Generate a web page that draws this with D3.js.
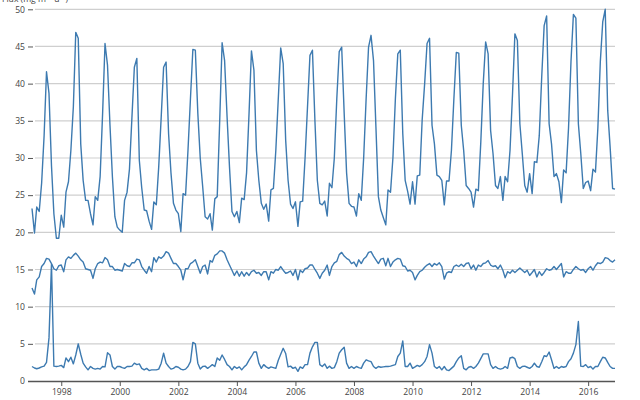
<!DOCTYPE html>
<html>
<head>
<meta charset="utf-8">
<script src="https://cdn.jsdelivr.net/npm/d3@7"></script>
<style>
  html, body { margin: 0; padding: 0; background: #fff; }
  svg { display: block; }
  .tick text { font-family: "Open Sans", "Liberation Sans", sans-serif; font-size: 8.6px; fill: #444; }
</style>
</head>
<body>
<svg id="chart" width="640" height="400"></svg>
<script>
// ---- data ----
const firstYear = 1997;
const lastYear = 2016;
const yTicks = [0, 5, 10, 15, 20, 25, 30, 35, 40, 45, 50];
const xTickYears = [1998, 2000, 2002, 2004, 2006, 2008, 2010, 2012, 2014, 2016];
const yLabel = "Flux (mg m\u207B\u00B2 d\u207B\u00B9)";

// monthly values, Jan 1997 .. Dec 2016
const seriesTop = [
  23.2, 19.9, 23.4, 22.8, 26.6, 33, 41.6, 38.7, 29, 22.5, 19.2, 19.2,
  22.3, 20.7, 25.4, 26.8, 31, 36.9, 46.9, 46.1, 31.9, 27, 24.3, 24.3,
  22.5, 21, 24.8, 24.3, 27.5, 36, 45.4, 42.5, 34.4, 27.5, 22.1, 20.7,
  20.3, 20, 24.3, 25.4, 28.5, 35.5, 42.2, 43.4, 29.7, 26, 23, 22.9,
  21.5, 20.4, 24.1, 23.7, 28.8, 35.5, 42.2, 42.9, 33.3, 28, 23.9, 23,
  22.5, 20.1, 25.2, 25, 31, 38, 44.6, 44.5, 36, 30, 26.1, 22.1,
  21.8, 22.5, 20.3, 24.5, 24.8, 35, 45.5, 43.1, 35.5, 28.8, 22.8, 22.1,
  22.8, 21.3, 24.6, 24.4, 28, 36, 44.4, 41.8, 31, 27, 23.9, 23.1,
  23.8, 21.5, 25.7, 25.9, 31, 38, 44.8, 42.7, 32.4, 27, 23.8, 23.2,
  24.1, 20.8, 24.1, 24.2, 30, 37, 43.8, 44.5, 35, 27, 23.9, 23.7,
  24.2, 22.2, 26.6, 26, 30, 38, 44.3, 44.9, 36, 28, 23.9, 23.5,
  23.4, 22.2, 25.2, 24.3, 30, 38, 44.9, 46.5, 43.1, 34.2, 24.8, 23,
  22, 21, 25.7, 25.4, 30, 38, 44, 44.5, 33.3, 27, 25.5, 23.8,
  26.8, 23.8, 27.6, 27.7, 35.1, 40, 45.4, 46.1, 34.4, 31.9, 27.7, 27.5,
  27, 23.7, 26.9, 26.9, 31, 38, 44.2, 44.1, 34.4, 31, 26.3, 25.9,
  25.4, 23.4, 25.8, 25.6, 32, 40, 45.6, 44, 33.7, 30.6, 26.3, 25.9,
  27.5, 24.3, 27.5, 26.8, 31, 38.5, 46.7, 45.8, 34.6, 30.6, 26.3, 25.4,
  27.9, 25.2, 29.5, 29.4, 33, 41, 47.8, 49.1, 34.6, 31.9, 27.5, 27.9,
  26.8, 24, 28.4, 28, 34, 43, 49.3, 48.8, 34.6, 30.6, 25.9, 26.7,
  26.9, 25.6, 28.5, 28.1, 34, 43, 48.3, 50, 36.4, 31.5, 25.9, 25.8
];

const seriesMid = [
  12.5, 11.7, 13.6, 14, 15.4, 15.8, 16.5, 16.4, 15.8, 15.1, 14.9, 15.5,
  15.6, 14.7, 16.3, 16.7, 16.5, 16.9, 17.2, 16.8, 16.3, 16, 15.1, 15,
  14.9, 13.8, 15.1, 15.8, 16, 15.9, 16.6, 16.3, 15.4, 15.4, 14.9, 15,
  14.9, 14.8, 15.8, 15.5, 15.4, 15.9, 15.9, 16.4, 16.3, 15.4, 14.9, 14.5,
  15.4, 14.7, 16.6, 16, 16.7, 16.5, 16.8, 17.4, 17.2, 16.5, 15.8, 15.8,
  15.4, 14.9, 13.6, 15.1, 15.1, 15.8, 16, 16.3, 15.4, 14.5, 15.4, 15.6,
  14.4, 16.2, 16, 16.9, 17.1, 17.5, 17.5, 17.2, 16.3, 15.6, 14.9, 14.2,
  14.8, 14.1, 14.7, 14.1, 14.6, 14.2, 14.7, 14.9, 14.5, 14.6, 14.2, 14.7,
  14.7, 13.6, 14.7, 14.5, 15, 14.9, 15.4, 14.9, 14.5, 14.6, 14.8, 14.2,
  15, 13.6, 14.9, 14.6, 15.1, 15.2, 15.6, 15.6, 15, 14.5, 13.8, 14.5,
  14.9, 15.6, 14.2, 15.4, 15.9, 16.1, 17, 17.3, 16.8, 16.5, 16.3, 15.8,
  16, 15.4, 16.3, 15.8, 16.4, 16.7, 17.3, 17.4, 16.8, 16.3, 15.8, 16.4,
  16.5, 15.5, 16.5, 15.4, 16, 16.3, 16.5, 16.4, 15.5, 15.4, 14.8, 14.9,
  14.6, 13.6, 14.2, 14.7, 14.9, 15.3, 15.6, 15.8, 15.4, 15.8, 15.6, 15.9,
  15.4, 13.7, 14.5, 14.7, 14.6, 15.4, 15.6, 15.4, 15.7, 15.4, 15.8, 15.9,
  15.1, 15.6, 14.9, 15.6, 15.4, 15.8, 15.9, 16.2, 15.6, 15.4, 15.5, 15.1,
  15.6, 14.9, 13.9, 14.7, 14.5, 14.9, 14.6, 14.9, 15.2, 14.9, 14.6, 14.9,
  14.2, 14.6, 15, 14, 14.7, 14.2, 14.6, 15.1, 14.9, 15, 15.4, 15,
  15.4, 15.8, 14, 14.7, 14.5, 14.5, 15, 15.4, 15.1, 14.9, 15, 14.6,
  15.1, 15.4, 14.9, 15.5, 15.9, 15.8, 16, 16.6, 16.5, 16.2, 16, 16.3
];

const seriesLow = [
  1.95, 1.75, 1.65, 1.75, 1.9, 2.0, 2.5, 5.8, 15.7, 2.0, 1.95, 2.0,
  2.1, 1.8, 3.1, 2.6, 3.2, 2.3, 3.5, 5.0, 3.6, 2.4, 1.9, 1.5,
  1.95, 1.7, 1.6, 1.7, 1.6, 1.95, 1.9, 3.8, 3.5, 1.95, 1.6, 1.95,
  1.95, 1.8, 1.7, 1.95, 1.95, 2.0, 2.4, 2.2, 2.3, 1.7, 1.5, 1.7,
  1.4, 1.5, 1.5, 1.5, 1.6, 2.4, 3.75, 2.4, 1.95, 1.6, 1.7, 1.95,
  1.85, 1.6, 1.5, 1.6, 1.95, 2.6, 5.2, 5.0, 2.4, 1.6, 1.95, 2.0,
  1.7, 1.95, 2.2, 1.95, 3.1, 2.8, 3.5, 2.9, 2.2, 1.95, 1.5, 1.95,
  1.7, 1.9, 1.5, 1.9, 2.2, 2.8, 3.3, 3.9, 3.9, 2.4, 1.7, 2.2,
  1.9, 1.7, 1.9, 1.8, 1.7, 2.8, 3.6, 4.4, 3.7, 1.9, 2.0, 1.7,
  1.85, 1.3, 1.9, 1.7, 2.2, 2.2, 3.75, 4.6, 5.2, 5.2, 2.2, 1.95,
  2.3, 1.7, 2.0, 1.7, 1.8, 2.6, 3.75, 4.2, 4.55, 2.4, 1.7, 1.95,
  1.7, 1.95, 1.8, 1.7, 2.4, 2.85, 2.7, 2.6, 1.95, 1.7, 1.95, 1.85,
  1.9, 1.95, 1.95, 2.0, 2.1, 2.2, 3.3, 3.75, 5.4, 1.95, 1.95, 2.4,
  1.7, 1.9, 2.1, 1.95, 2.2, 2.6, 3.3, 4.9, 3.75, 1.95, 1.7, 1.95,
  1.5, 1.95, 1.5, 1.4, 1.7, 2.0, 2.6, 3.1, 3.4, 1.7, 1.5, 1.85,
  1.95, 1.7, 1.95, 2.4, 3.0, 3.65, 3.65, 3.65, 2.2, 1.7, 1.95, 1.7,
  1.6, 1.7, 1.95, 1.7, 3.1, 3.2, 3.0, 1.95, 1.7, 1.95, 2.0, 1.85,
  1.7, 1.95, 2.4, 1.95, 1.85, 2.6, 3.4, 3.3, 3.9, 2.85, 1.7, 1.95,
  1.7, 1.95, 1.85, 1.95, 2.6, 3.0, 3.75, 4.9, 8.0, 2.0, 1.95, 2.2,
  1.8, 1.95, 1.6, 1.95, 1.95, 2.6, 3.2, 3.1, 2.5, 1.95, 1.7, 1.7
];

// ---- chart ----
const months = d3.timeMonth.range(new Date(firstYear, 0, 1), new Date(lastYear + 1, 0, 1));
const svg = d3.select("#chart");

const x = d3.scaleTime()
  .domain([months[0], months[months.length - 1]])
  .range([32, 615]);
const y = d3.scaleLinear().domain([0, 50]).range([381, 9.3]);

// gridlines
svg.append("g")
  .selectAll("line")
  .data(yTicks.filter(d => d > 0))
  .join("line")
  .attr("x1", 35).attr("x2", 615)
  .attr("y1", d => y(d)).attr("y2", d => y(d))
  .attr("stroke", "#cfcfcf")
  .attr("stroke-width", 1.2);

// y axis
const yAxis = svg.append("g")
  .attr("transform", "translate(33,0)")
  .call(d3.axisLeft(y).tickValues(yTicks).tickSize(5).tickPadding(3));
yAxis.select(".domain").remove();
yAxis.selectAll(".tick line").attr("stroke", "#555");

// x axis
const xAxis = svg.append("g")
  .attr("transform", "translate(0,381)")
  .call(d3.axisBottom(x)
    .tickValues(xTickYears.map(yr => new Date(yr, 0, 1)))
    .tickFormat(d3.timeFormat("%Y"))
    .tickSize(5).tickSizeOuter(0).tickPadding(3));
xAxis.select(".domain").attr("stroke", "#555").attr("stroke-width", 1.3)
  .attr("d", "M28,0.5H615");
xAxis.selectAll(".tick line").attr("stroke", "#555");

// axis title (clipped at top as in the original)
svg.append("text")
  .attr("x", 2).attr("y", 2)
  .attr("font-family", "Open Sans, sans-serif")
  .attr("font-size", 8.6)
  .attr("fill", "#444")
  .text(yLabel);

// lines
const line = d3.line()
  .x((d, i) => x(months[i]))
  .y(d => y(d));

[seriesTop, seriesMid, seriesLow].forEach(s => {
  svg.append("path")
    .datum(s)
    .attr("fill", "none")
    .attr("stroke", "#3d7ab0")
    .attr("stroke-width", 1.4)
    .attr("stroke-linejoin", "round")
    .attr("d", line);
});
</script>
</body>
</html>
